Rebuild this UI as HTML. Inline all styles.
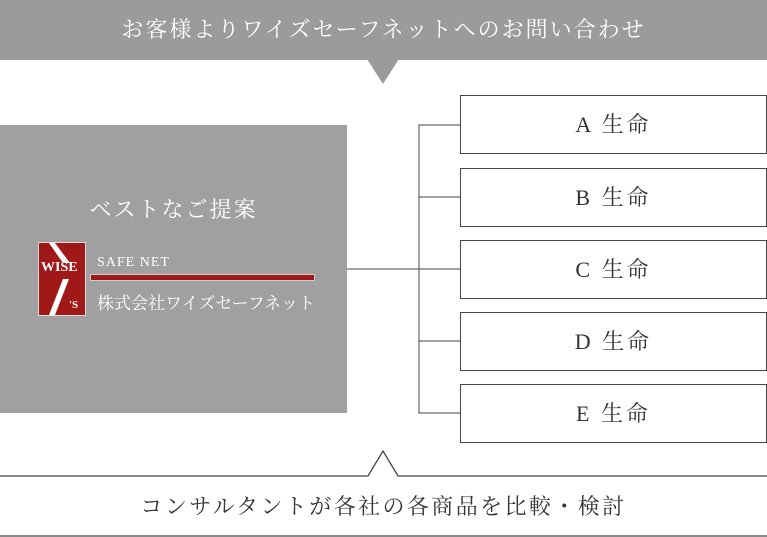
<!DOCTYPE html>
<html><head><meta charset="utf-8"><style>
body{margin:0;width:767px;height:537px;background:#fff;position:relative;overflow:hidden;font-family:"Liberation Serif","Noto Serif CJK SC",serif;}
.a{position:absolute}
.box{position:absolute;left:460px;width:305px;height:57px;border:1px solid #444;background:#fff;text-align:center;line-height:57px;font-size:22px;color:#333;letter-spacing:3px}
</style></head><body>
<div class="a" style="left:0;top:0;width:767px;height:60px;background:#9b9b9b;color:#fff;font-size:22px;text-align:center;line-height:60px;letter-spacing:2px">お客様よりワイズセーフネットへのお問い合わせ</div>
<svg class="a" style="left:0;top:0" width="767" height="537">
<polygon points="367,59 399,59 383,84" fill="#9b9b9b"/>
<polyline points="0,476 368,476 383,451 398,476 767,476" fill="none" stroke="#444" stroke-width="1.3"/>
<line x1="0" y1="536" x2="767" y2="536" stroke="#444" stroke-width="1.3"/>
<polyline points="460,125 419,125 419,413 460,413" fill="none" stroke="#444"/>
<line x1="419" y1="197" x2="460" y2="197" stroke="#444"/>
<line x1="419" y1="341" x2="460" y2="341" stroke="#444"/>
<line x1="347" y1="269" x2="460" y2="269" stroke="#444"/>
</svg>
<div class="a" style="left:0;top:125px;width:347px;height:288px;background:#a0a0a0"></div>
<div class="a" style="left:0;top:193px;width:347px;text-align:center;color:#fff;font-size:22px;letter-spacing:2px">ベストなご提案</div>
<div class="a" style="left:38px;top:242px;width:46px;height:72px;background:#a01818;border:1px solid #ddd;overflow:hidden">
<svg width="46" height="72" style="position:absolute;left:0;top:0"><polygon points="10,0 16,0 31,20 24,20" fill="#fff"/><polygon points="24,36 30,36 16,72 10,72" fill="#fff"/></svg>
<div class="a" style="left:2px;top:17px;color:#fff;font-size:14px;font-weight:bold;font-family:'Liberation Serif',serif">WISE</div>
<div class="a" style="left:30px;top:56px;color:#fff;font-size:11px;font-weight:bold">'S</div>
</div>
<div class="a" style="left:97px;top:255px;color:#fff;font-size:14px;letter-spacing:1px">SAFE NET</div>
<div class="a" style="left:90px;top:274px;width:223px;height:5px;background:#a01818;border:1px solid #ccc"></div>
<div class="a" style="left:97px;top:289px;color:#fff;font-size:17px">株式会社ワイズセーフネット</div>
<div class="box" style="top:95px">A 生命</div>
<div class="box" style="top:168px">B 生命</div>
<div class="box" style="top:240px">C 生命</div>
<div class="box" style="top:312px">D 生命</div>
<div class="box" style="top:384px">E 生命</div>
<div class="a" style="left:0;top:490px;width:767px;text-align:center;font-size:22px;color:#333;letter-spacing:2.4px">コンサルタントが各社の各商品を比較・検討</div>
</body></html>
